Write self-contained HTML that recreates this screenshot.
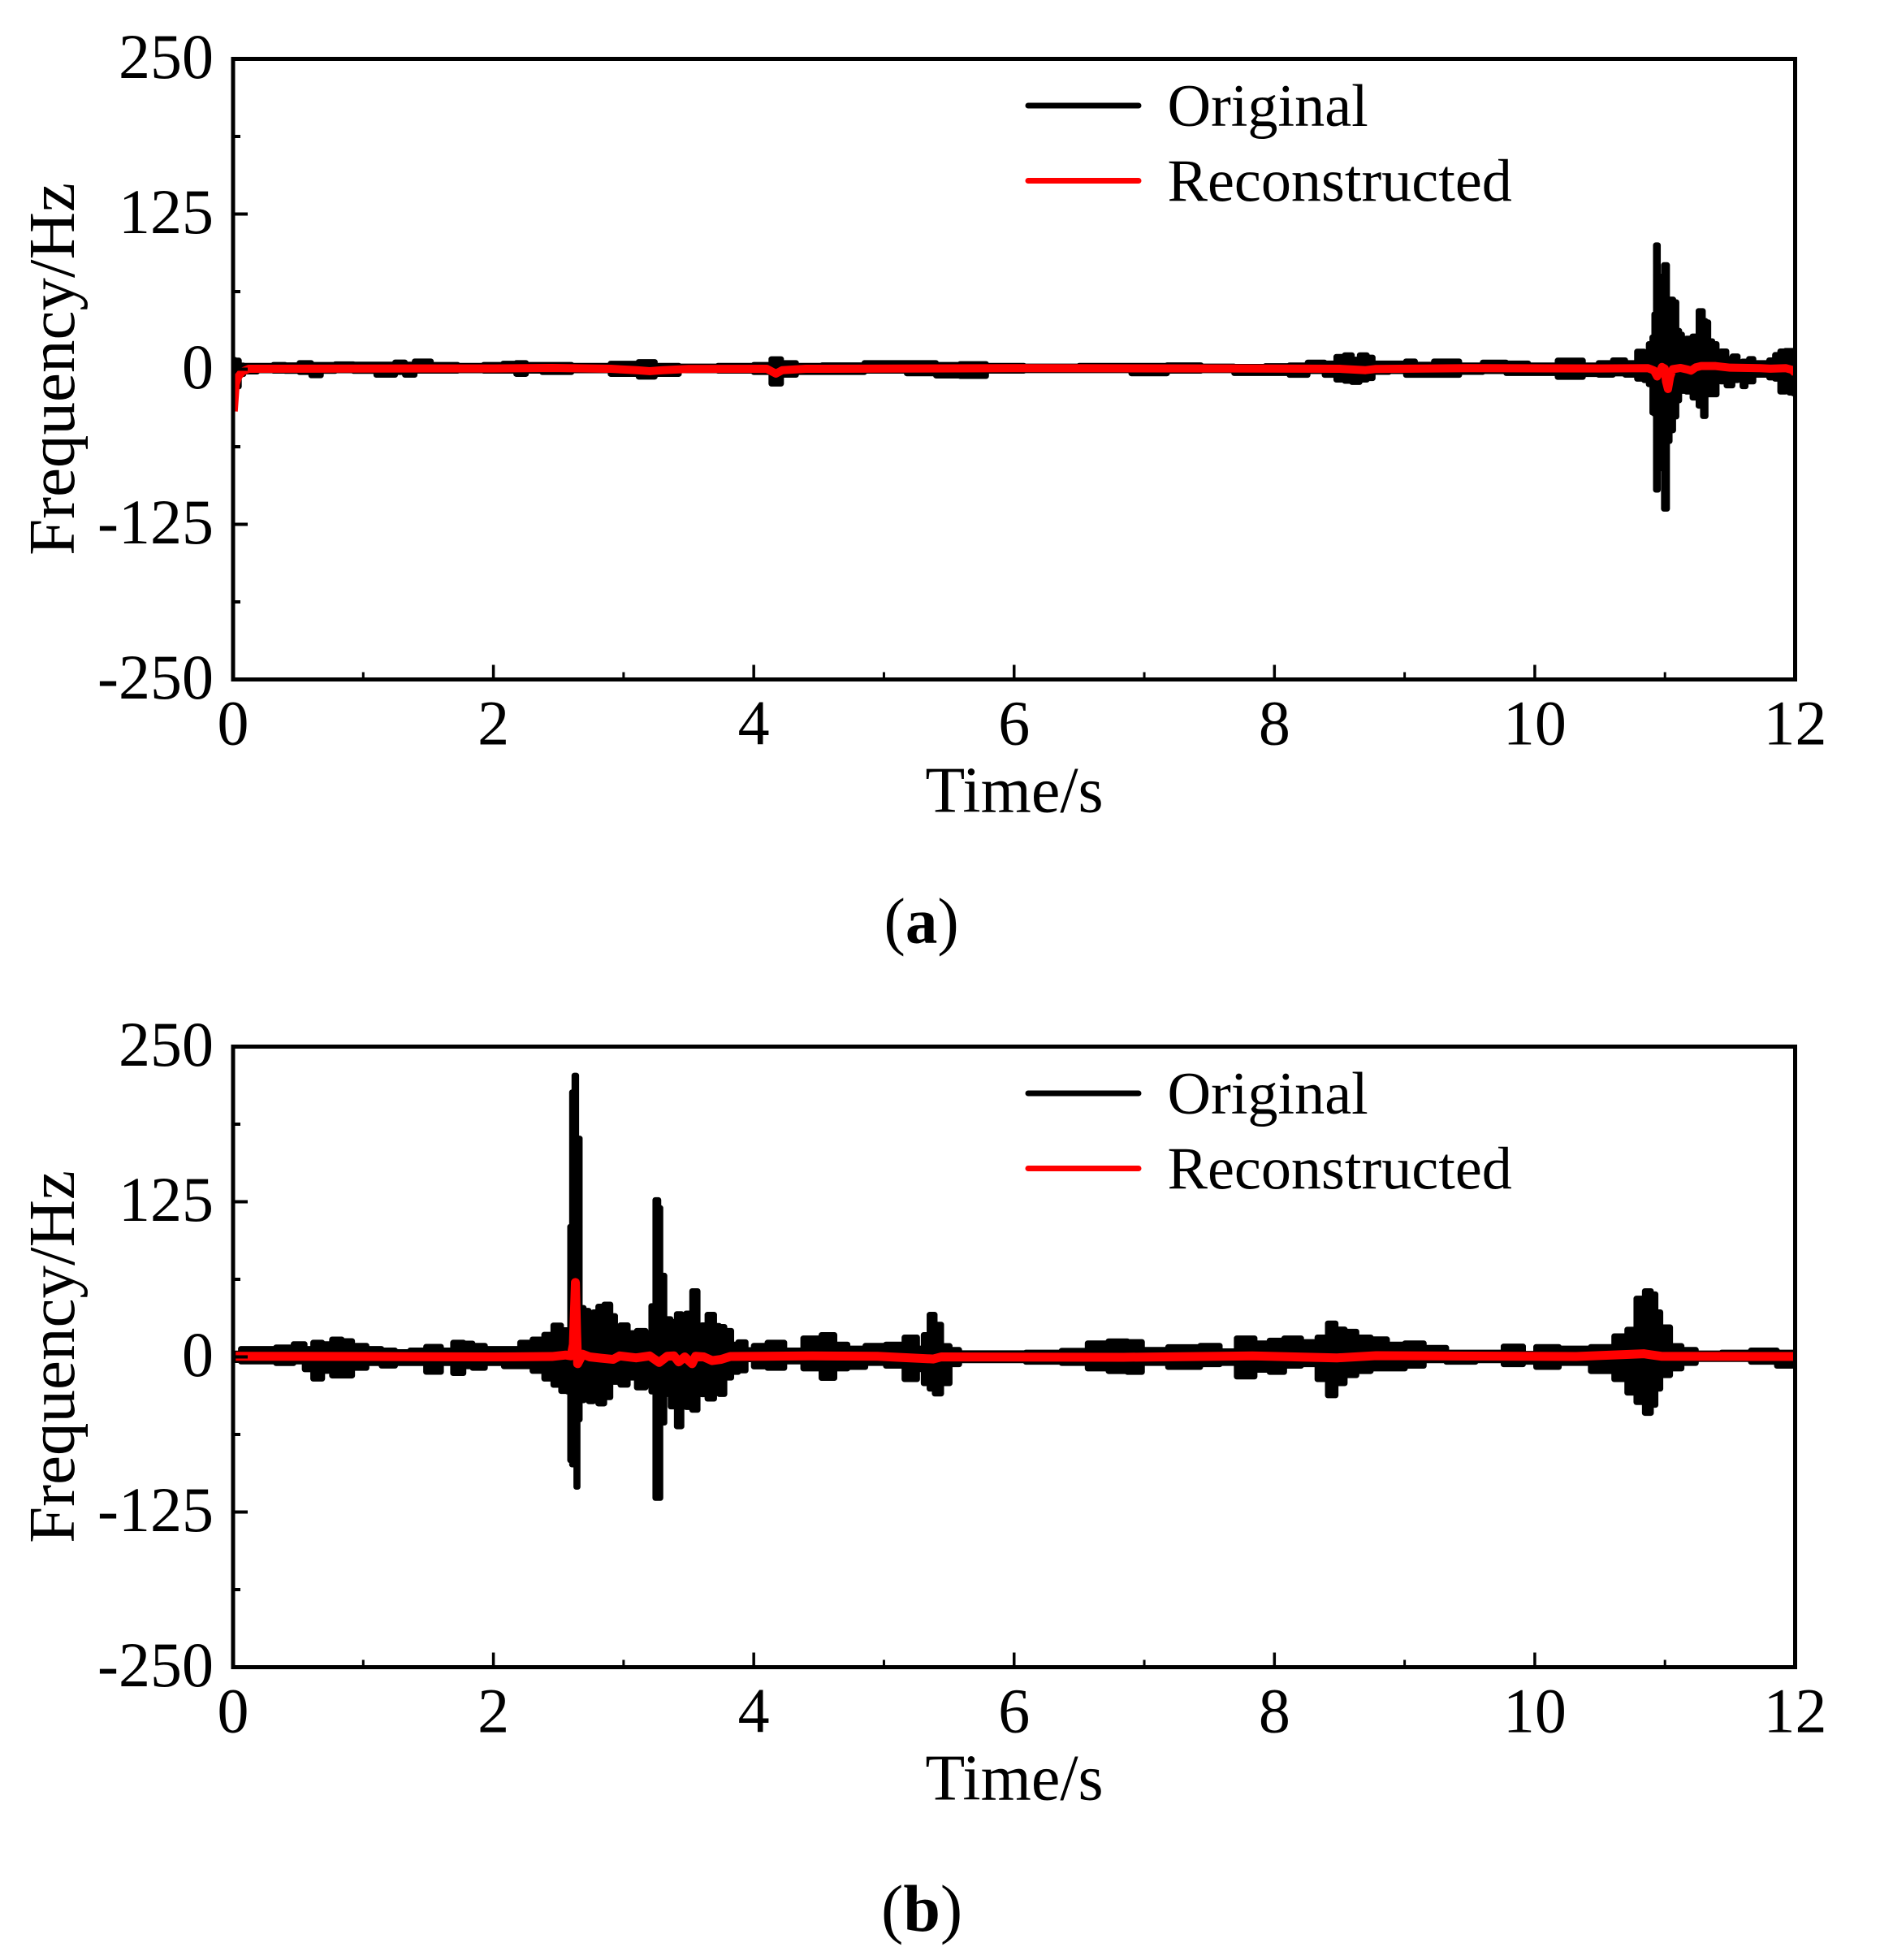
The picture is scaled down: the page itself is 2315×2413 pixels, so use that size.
<!DOCTYPE html>
<html>
<head>
<meta charset="utf-8">
<style>
html,body{margin:0;padding:0;background:#fff;}
svg{display:block;}
text{font-family:"Liberation Serif",serif;fill:#000;}
.tick{font-size:78px;}
.title{font-size:81px;}
.xtitle{font-size:80px;}
.legend{font-size:74.2px;}
.cap-a{font-size:79px;}
.cap-b{font-size:82px;}
</style>
</head>
<body>
<svg id="chart" width="2315" height="2413" viewBox="0 0 2315 2413" xmlns="http://www.w3.org/2000/svg">
  <rect width="2315" height="2413" fill="#fff"/>
  <defs>
    <clipPath id="clip-a"><rect x="287" y="72.5" width="1923.5" height="764"/></clipPath>
    <clipPath id="clip-b"><rect x="287" y="1288.5" width="1923.5" height="764"/></clipPath>
  </defs>
  <g id="panel-a">
    <g id="marks-a" clip-path="url(#clip-a)"></g>
    <g id="axes-a"></g>
    <text class="title" text-anchor="middle" transform="translate(91 454.5) rotate(-90)">Frequency/Hz</text>
    <text class="xtitle" text-anchor="middle" x="1249" y="999.5">Time/s</text>
    <line x1="1266" y1="130" x2="1402" y2="130" stroke="#000" stroke-width="7" stroke-linecap="round"/>
    <text class="legend" x="1437.5" y="155">Original</text>
    <line x1="1266" y1="222.5" x2="1402" y2="222.5" stroke="#f00" stroke-width="7" stroke-linecap="round"/>
    <text class="legend" x="1437.5" y="247.5">Reconstructed</text>
    <text class="cap-a" x="1088.5" y="1160.5">(<tspan font-weight="bold">a</tspan>)</text>
  </g>
  <g id="panel-b">
    <g id="marks-b" clip-path="url(#clip-b)"></g>
    <g id="axes-b"></g>
    <text class="title" text-anchor="middle" transform="translate(91 1670.5) rotate(-90)">Frequency/Hz</text>
    <text class="xtitle" text-anchor="middle" x="1249" y="2215.5">Time/s</text>
    <line x1="1266" y1="1346" x2="1402" y2="1346" stroke="#000" stroke-width="7" stroke-linecap="round"/>
    <text class="legend" x="1437.5" y="1371">Original</text>
    <line x1="1266" y1="1438.5" x2="1402" y2="1438.5" stroke="#f00" stroke-width="7" stroke-linecap="round"/>
    <text class="legend" x="1437.5" y="1463.5">Reconstructed</text>
    <text class="cap-b" x="1085" y="2377">(<tspan font-weight="bold">b</tspan>)</text>
  </g>
</svg>
<script>
var xTickLabels = ["0","2","4","6","8","10","12"];
var xTickValues = [0,2,4,6,8,10,12];
var xMinorValues = [1,3,5,7,9,11];
var yTickLabels = ["250","125","0","-125","-250"];
var yTickValues = [250,125,0,-125,-250];
var yMinorValues = [187.5,62.5,-62.5,-187.5];

var timeA = [0,0.03,0.06,0.1,0.27,0.35,0.45,0.57,0.63,0.72,
0.85,1,1.2,1.29,1.35,1.44,1.6,1.85,2,2.15,
2.2,2.3,2.45,2.75,3.05,3.18,3.3,3.55,3.9,4.1,
4.17,4.25,4.4,4.65,5.05,5.3,5.5,5.67,5.9,6.25,
6.75,7.05,7.3,7.57,7.81,8.05,8.18,8.33,8.44,8.51,
8.57,8.62,8.69,8.73,8.78,8.98,9.04,9.12,9.33,9.51,
9.69,9.87,10.03,10.32,10.42,10.56,10.64,10.75,10.82,10.86,
10.89,10.915,10.92,10.94,10.952,10.973,11.01,11.023,11.05,11.077,
11.1,11.12,11.143,11.185,11.237,11.278,11.305,11.32,11.347,11.382,
11.413,11.445,11.5,11.538,11.58,11.61,11.63,11.66,11.7,11.77,
11.83,11.86,11.91,11.94,11.97,12];
var upperA = [7.5,7,3,2.8,2.8,3.5,3.2,5,3.5,3.5,
4,3.8,3.8,5.5,3.8,6.3,3.5,2.8,3.5,4.5,
5,3.5,3.5,2.8,4.5,5.8,2.8,2.2,2.8,3.5,
8.1,5,2.8,3.2,5,5,3.5,4.2,2.8,2.2,
2.8,2.8,3.2,2.2,2,2.5,3.1,5.4,4.7,10,
11.3,7.8,11.3,9.4,4.7,4.7,6.3,3.7,6.3,3.1,
5.4,4.7,3.1,7,3.1,5,7.2,5,14.2,13.7,
20.3,25.7,44.3,99.9,74.8,71.5,83.9,56.2,56.2,54,
31,28,20.3,24.7,26.4,46.9,38.9,37.8,22.6,20.3,
14.2,14.4,8.3,10.4,5,6.2,4,8.3,5,5,
7.2,11.5,14.4,14.8,14.8,14.8];
var lowerA = [-18,-14,-4,-2,-1,-1.3,-1.5,-2.4,-5,-1.5,
-1,-1.5,-4.6,-2.4,-4.6,-1.3,-1.3,-1,-1.3,-1.3,
-3.9,-1.3,-2.4,-1,-3.9,-6.1,-3.9,-1,-1.3,-2.4,
-11.7,-4.6,-2.4,-2.4,-1.3,-3.4,-5.2,-5.6,-1.3,-0.9,
-0.9,-3.4,-1.3,-0.9,-3.2,-3.2,-4.7,-1.6,-4.7,-8.5,
-9.5,-10.4,-8.5,-7.3,-2.3,-1.6,-4.7,-4.7,-4.7,-2.3,
-1.6,-3.2,-3.2,-6.3,-4,-4.6,-3.5,-4.6,-7.8,-8.9,
-12.2,-35,-36,-97.2,-79.9,-79.9,-112.5,-58,-49.3,-38.2,
-25.2,-12,-17.6,-18.2,-23,-29.5,-37.9,-19.7,-20.4,-20.4,
-8.9,-10,-13.2,-8.9,-5.7,-13.8,-8.9,-10,-4.6,-4.6,
-6.8,-7.8,-18.2,-7.8,-19,-19.6];
var reconTimeA = [0.005,0.02,0.04,0.07,0.12,1,2,2.45,2.9,3.1,3.2,3.3,3.5,4.1,4.17,4.22,4.4,6,7.5,8.5,8.7,8.78,9.5,10.5,10.87,10.915,10.94,10.96,10.977,10.998,11.008,11.023,11.04,11.06,11.12,11.175,11.2,11.237,11.278,11.39,11.5,11.73,11.81,11.93,11.975,12];
var reconA = [-34,-12,-6,-2,0.3,0.5,0.6,1,0.3,-0.8,-1.6,-0.8,0.2,0.3,-3.6,-0.8,0.3,0.8,0.6,0.3,-0.8,0.2,0.8,0.6,0.8,-1,-5.9,-2,1.8,0.5,-10,-16,-6,0,1,-0.3,-1.2,1.5,2.5,2.5,1.2,0.8,0.4,0.8,-0.5,-3];

var timeB = [0,0.12,0.25,0.41,0.52,0.58,0.65,0.72,0.8,0.87,
0.96,1.09,1.19,1.3,1.42,1.545,1.65,1.73,1.81,1.87,
2,2.16,2.25,2.35,2.43,2.49,2.55,2.585,2.593,2.614,
2.63,2.643,2.651,2.676,2.711,2.753,2.784,2.826,2.878,2.92,
2.95,3,3.065,3.138,3.2,3.225,3.262,3.273,3.293,3.335,
3.387,3.43,3.46,3.5,3.553,3.585,3.616,3.672,3.72,3.75,
3.8,3.855,3.906,3.97,4.03,4.18,4.29,4.47,4.57,4.67,
4.77,4.945,5.085,5.23,5.28,5.33,5.37,5.41,5.47,5.54,
5.617,5.94,6.24,6.49,6.64,6.81,6.93,7.035,7.33,7.53,
7.63,7.79,7.905,8.02,8.13,8.28,8.38,8.44,8.5,8.58,
8.68,8.8,8.93,9.075,9.22,9.42,9.67,9.85,9.97,10.05,
10.32,10.54,10.68,10.74,10.82,10.87,10.915,10.94,10.99,11.09,
11.165,11.31,11.56,11.76,11.96,12];
var upperB = [2.8,6.5,6.5,7.7,10.3,6.5,11.5,10.3,14.1,12.8,
9,6.5,5.2,3.9,5.2,8.2,5.2,11.5,10.8,9,
6.5,6.5,11.5,14.1,17.9,25.4,21.6,21.6,104.9,213.2,
226.7,176,176,39.5,37.2,31.6,36,40.6,42.2,33,
23.3,25.5,19.2,21,17.5,41,126.4,120,65.5,30.5,
28.2,34.5,22.7,35,53,22,25.5,34,25,24.2,
21,10,11.9,5.6,9,11.5,5.2,15,17.7,10,
6.8,9,10,15.7,6.8,17.7,34,26,8.8,5.7,
3,3,3.5,5,11,12.6,12,5.7,7.9,9,
4.6,15,11,13.2,15,12,15.7,27,22.2,20.4,
15.7,14.2,10,11,7.4,3.5,3.5,8.4,2.5,8,
6.8,8,16.7,22,47,53,50.5,36,23.9,8.8,
5.7,2.9,3.5,5.2,3.5,3.5];
var lowerB = [-2.6,-3.8,-3.8,-5.1,-3.8,-10.1,-17.6,-11.4,-15.1,-15.1,
-8.9,-5.1,-7.1,-5.1,-5.1,-12.1,-5.1,-13.1,-7.6,-8.9,
-5.1,-7.6,-7.6,-11.4,-17.6,-22.6,-27.6,-28,-83.3,-86.7,
-86.7,-104.7,-50.5,-35,-30,-35.8,-29,-37.6,-32.6,-20.2,
-20.2,-22.5,-16.8,-24.7,-12.2,-28,-113.7,-113.7,-53,-30,
-40,-56,-38.2,-40.5,-42.7,-25.8,-30.2,-33.7,-28,-30,
-16.8,-12.2,-11,-2,-7.8,-8.9,-3.8,-9.4,-17,-9.4,
-8.2,-5,-7.2,-18,-10,-21.3,-25.7,-29.6,-21.3,-6,
-2.8,-2.8,-4,-5,-9.4,-11.5,-12.2,-5,-8.2,-6,
-5,-15.9,-10.5,-12.2,-7.2,-6,-18,-31,-21.3,-14.8,
-11.5,-9.4,-9.4,-7.2,-2.8,-4,-2.8,-6,-4,-8.2,
-5,-11.5,-18,-28.9,-36.5,-45.2,-38.7,-25.7,-14.8,-9.4,
-5,-1.8,-1.8,-4,-7.2,-7];
var reconTimeB = [0.02,1,2,2.45,2.555,2.597,2.614,2.63,2.639,2.647,2.664,2.684,2.74,2.826,2.92,2.97,3.096,3.2,3.273,3.335,3.387,3.424,3.47,3.526,3.553,3.616,3.68,3.75,3.82,4.07,4.45,4.95,5.38,5.44,6.84,7.83,8.48,8.78,10.32,10.84,10.97,12];
var reconB = [0.5,0.3,0,0.3,1.5,0.8,10,60,20,-5.5,-2,2.2,0,-1,-2,0.8,-0.8,0.8,-4.5,0.5,0.8,-4,0,-5.5,0.5,0,-3,-2,0.3,0.5,0.8,0.5,-1.7,0,-0.3,0.8,-0.8,1,0.3,2.5,0.5,0.3];

var SVGNS = 'http://www.w3.org/2000/svg';
var plotLeft = 287, plotRight = 2210.5, plotHeight = 764;

function xScale(t){ return plotLeft + (t / 12) * (plotRight - plotLeft); }
function yScale(v, top){ return top + (250 - v) / 500 * plotHeight; }

function make(tag, parent){
  var el = document.createElementNS(SVGNS, tag);
  parent.appendChild(el);
  return el;
}

/* Stepped outline so the envelope has the blocky pillars of the dense original trace */
function steppedEdge(time, values, top){
  var d = [], i, x0, x1, y;
  for (i = 0; i < time.length; i++) {
    x0 = i === 0 ? xScale(time[0]) : xScale((time[i - 1] + time[i]) / 2);
    x1 = i === time.length - 1 ? xScale(time[i]) : xScale((time[i] + time[i + 1]) / 2);
    y = yScale(values[i], top);
    d.push([x0.toFixed(2), y.toFixed(2)]);
    d.push([x1.toFixed(2), y.toFixed(2)]);
  }
  return d;
}

function drawMarks(host, top, time, upper, lower, reconTime, recon, reconWidth){
  var up = steppedEdge(time, upper, top);
  var low = steppedEdge(time, lower, top).reverse();
  var all = up.concat(low), i, parts = [];
  for (i = 0; i < all.length; i++) parts.push((i === 0 ? 'M' : 'L') + all[i][0] + ' ' + all[i][1]);
  var env = make('path', host);
  
  
  env.setAttribute('d', parts.join('') + 'Z');
  env.setAttribute('fill', '#000');
  env.setAttribute('stroke', '#000');
  env.setAttribute('stroke-width', '7');
  env.setAttribute('stroke-linejoin', 'round');

  var rp = [];
  for (i = 0; i < reconTime.length; i++) rp.push(xScale(reconTime[i]).toFixed(2) + ',' + yScale(recon[i], top).toFixed(2));
  var rec = make('polyline', host);
  
  
  rec.setAttribute('points', rp.join(' '));
  rec.setAttribute('fill', 'none');
  rec.setAttribute('stroke', '#f00');
  rec.setAttribute('stroke-width', reconWidth);
  rec.setAttribute('stroke-linejoin', 'round');
}

function drawAxes(host, top){
  var bottom = top + plotHeight, i, el, x, y;
  for (i = 0; i < xTickValues.length; i++) {
    x = xScale(xTickValues[i]);
    el = make('line', host);
    
    
    el.setAttribute('x1', x); el.setAttribute('x2', x);
    el.setAttribute('y1', bottom); el.setAttribute('y2', bottom - 18);
    el.setAttribute('stroke', '#000'); el.setAttribute('stroke-width', '3.5');
    el = make('text', host);
    
    
    el.setAttribute('class', 'tick');
    el.setAttribute('text-anchor', 'middle');
    el.setAttribute('x', x);
    el.setAttribute('y', bottom + 80);
    el.textContent = xTickLabels[i];
  }
  for (i = 0; i < xMinorValues.length; i++) {
    x = xScale(xMinorValues[i]);
    el = make('line', host);
    
    
    el.setAttribute('x1', x); el.setAttribute('x2', x);
    el.setAttribute('y1', bottom); el.setAttribute('y2', bottom - 9);
    el.setAttribute('stroke', '#000'); el.setAttribute('stroke-width', '3');
  }
  for (i = 0; i < yTickValues.length; i++) {
    y = yScale(yTickValues[i], top);
    el = make('line', host);
    
    
    el.setAttribute('x1', plotLeft); el.setAttribute('x2', plotLeft + 18);
    el.setAttribute('y1', y); el.setAttribute('y2', y);
    el.setAttribute('stroke', '#000'); el.setAttribute('stroke-width', '4');
    el = make('text', host);
    
    
    el.setAttribute('class', 'tick');
    el.setAttribute('text-anchor', 'end');
    el.setAttribute('x', 263);
    el.setAttribute('y', y + 23.5);
    el.textContent = yTickLabels[i];
  }
  for (i = 0; i < yMinorValues.length; i++) {
    y = yScale(yMinorValues[i], top);
    el = make('line', host);
    
    
    el.setAttribute('x1', plotLeft); el.setAttribute('x2', plotLeft + 9);
    el.setAttribute('y1', y); el.setAttribute('y2', y);
    el.setAttribute('stroke', '#000'); el.setAttribute('stroke-width', '4');
  }
  el = make('rect', host);
  
  
  el.setAttribute('x', plotLeft); el.setAttribute('y', top);
  el.setAttribute('width', plotRight - plotLeft); el.setAttribute('height', plotHeight);
  el.setAttribute('fill', 'none');
  el.setAttribute('stroke', '#000');
  el.setAttribute('stroke-width', '5');
}

drawMarks(document.getElementById('marks-a'), 72.5, timeA, upperA, lowerA, reconTimeA, reconA, 10);
drawAxes(document.getElementById('axes-a'), 72.5);
drawMarks(document.getElementById('marks-b'), 1288.5, timeB, upperB, lowerB, reconTimeB, reconB, 11);
drawAxes(document.getElementById('axes-b'), 1288.5);
</script>
</body>
</html>
